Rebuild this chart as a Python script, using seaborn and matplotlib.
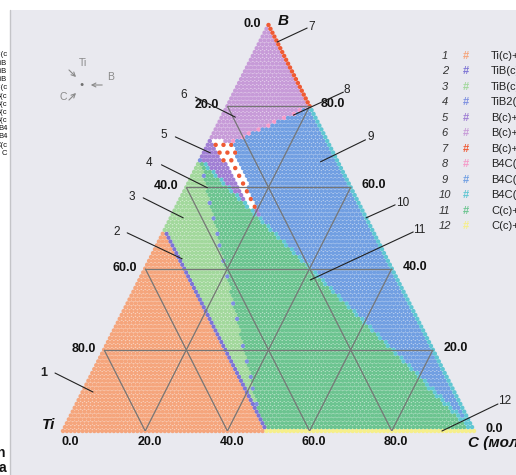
import numpy as np
import pandas as pd
import matplotlib
matplotlib.use("Agg")
import matplotlib.pyplot as plt
from matplotlib.path import Path
from matplotlib.patches import Rectangle, FancyArrowPatch
from matplotlib.lines import Line2D
from matplotlib.transforms import offset_copy
import seaborn as sns

sns.set_theme(style="white")
plt.rcParams["font.family"] = ["Liberation Sans", "DejaVu Sans"]

# Phase compositions as mole fractions of B and C (Ti = 1 - B - C)
phase_names = ["Ti", "TiB", "TiB2", "TiC", "B", "B4C", "C"]
phase_b = [0.0, 0.49, 0.667, 0.0, 1.0, 0.8, 0.0]
phase_c = [0.0, 0.0, 0.0, 0.487, 0.0, 0.2, 1.0]

# Corner points of the B-rich band next to TiB2
band_names = ["edge", "red_tl", "red_tr", "red_br", "red_bl", "tip"]
band_b = [0.717, 0.717, 0.712, 0.544, 0.552, 0.507]
band_c = [0.0, 0.005, 0.0535, 0.2005, 0.175, 0.240]

region_ids = list(range(1, 13))
region_labels = [
    "Ti(c)+TiB(c)+TiC(c)",
    "TiB(c)+TiC(c)",
    "TiB(c)+TiB2(c)+TiC(c)",
    "TiB2(c)+TiC(c)",
    "B(c)+TiB2(c)",
    "B(c)+B4C(c)+TiB2(c)",
    "B(c)+B4C(c)",
    "B4C(c)+TiB2(c)",
    "B4C(c)+C(c)+TiB2(c)",
    "B4C(c)+C(c)",
    "C(c)+TiB2(c)+TiC(c)",
    "C(c)+TiC(c)",
]
region_colors = [
    "#f5a57c", "#7d74d4", "#a2d89c", "#7d8fe0", "#a07fd4", "#c79bd8",
    "#ef5a34", "#f59ac8", "#719fe2", "#5fc6d2", "#6cc490", "#f6ef8a",
]

# Compositions that the numbered leader lines point at
label_b = [0.096, 0.424, 0.525, 0.599, 0.685, 0.773, 0.958, 0.778, 0.663, 0.525, 0.372, 0.0]
label_c = [0.025, 0.078, 0.030, 0.052, 0.016, 0.033, 0.042, 0.1715, 0.295, 0.475, 0.4155, 0.922]

tick_values = [0.0, 20.0, 40.0, 60.0, 80.0]

P = {n: (bb, cc) for n, bb, cc in zip(phase_names + band_names,
                                        phase_b + band_b, phase_c + band_c)}


def tri_xy(bb, cc):
    bb = np.asarray(bb, float)
    cc = np.asarray(cc, float)
    return cc + 0.5 * bb, bb


# ---------------- figure frame ----------------
W, H = 516, 475
fig = plt.figure(figsize=(W / 100, H / 100), dpi=100)
fig.patch.set_facecolor("white")
fig.patches.append(Rectangle((10 / W, 0), 1 - 10 / W, 1 - 10 / H,
                             transform=fig.transFigure, facecolor="#e9e9ef",
                             edgecolor="none", zorder=-10))
fig.add_artist(Line2D([9.5 / W, 9.5 / W], [0, 1 - 10 / H], color="#c4c4c8", lw=1))

ax = fig.add_axes([63 / W, (H - 431) / H, 411 / W, 406 / H])
ax.set_xlim(0, 1)
ax.set_ylim(0, 1)
ax.axis("off")

# ---------------- calculation lattice ----------------
n_div = 105
kk, ii = [], []
for k in range(n_div + 1):
    for i in range(n_div + 1 - k):
        kk.append(k)
        ii.append(i)
kk = np.array(kk)
ii = np.array(ii)
b = kk / n_div
c = ii / n_div

# slightly nudged copy for polygon membership tests
bn = b + (1 / 3 - b) * 1e-6
cn = c + (1 / 3 - c) * 1e-6


def inside(names):
    verts = np.column_stack(tri_xy([P[n][0] for n in names], [P[n][1] for n in names]))
    x, y = tri_xy(bn, cn)
    return Path(verts).contains_points(np.column_stack([x, y]))


def to_px(bb, cc):
    x, y = tri_xy(bb, cc)
    return 411 * x, 406 * y


def line_dist(pa, pb, bb=b, cc=c):
    x, y = to_px(bb, cc)
    x0, y0 = to_px(*pa)
    x1, y1 = to_px(*pb)
    dx, dy = x1 - x0, y1 - y0
    L = np.hypot(dx, dy)
    d = ((x - x0) * dy - (y - y0) * dx) / L
    t = ((x - x0) * dx + (y - y0) * dy) / L ** 2
    return d, t


region = np.zeros(len(b), int)
on_bottom = kk == 0
on_right = (n_div - kk - ii) == 0
region[on_bottom & (c >= P["TiC"][1] - 1e-9)] = 12
region[(region == 0) & on_right & (b >= P["B4C"][0] - 1e-9)] = 7
region[(region == 0) & on_right] = 10

region[(region == 0) & inside(["Ti", "TiB", "TiC"])] = 1

d, t = line_dist(P["TiB"], P["TiC"])
d_ref, _ = line_dist(P["TiB"], P["TiC"], 0.0, 0.0)
region[(region == 0) & (d * np.sign(d_ref) < 0) & (np.abs(d) < 3.4) & (t >= 0) & (t <= 1)] = 2

d, t = line_dist(P["TiB2"], P["TiC"])
region[(region == 0) & (np.abs(d) < 0.45) & (t >= 0) & (t <= 1)] = 4

d, t = line_dist(P["TiB2"], P["C"])
region[(region == 0) & (np.abs(d) < 1.4) & (t >= 0) & (t <= 1)] = 10

d, t = line_dist(P["B4C"], P["red_tr"])
region[(region == 0) & (np.abs(d) < 0.6) & (t >= 0) & (t <= 1)] = 8

# red-dotted field: scattered red dots on a white ground
red = (region == 0) & inside(["red_tl", "red_tr", "red_br", "red_bl"])
red_dot = (ii % 2 == 0) & (kk % 2 == 0)
region[red & red_dot] = 7
region[red & ~red_dot] = -1

for rid, names in [(3, ["TiB", "TiB2", "TiC"]),
                   (11, ["TiB2", "TiC", "C"]),
                   (9, ["B4C", "C", "tip", "red_br", "red_tr"]),
                   (6, ["B", "B4C", "red_tr", "red_tl", "edge"]),
                   (5, ["edge", "red_tl", "red_bl", "red_br", "tip", "TiB2"])]:
    region[(region == 0) & inside(names)] = rid

X, Y = tri_xy(b, c)
df = pd.DataFrame({"x": X, "y": Y, "region": region})
df = df[df["region"] > 0]

palette = dict(zip(region_ids, region_colors))

# white ground under the dotted phase fields
ax.fill([0, 1, 0.5], [0, 0, 1], color="white", zorder=0, lw=0)
sns.scatterplot(data=df, x="x", y="y", hue="region", palette=palette,
                hue_order=region_ids, s=10, linewidth=0, marker="o",
                legend=False, ax=ax, clip_on=False, zorder=2)
ax.set_xlim(0, 1)
ax.set_ylim(0, 1)
ax.set_xlabel("")
ax.set_ylabel("")

# ---------------- triangular grid ----------------
grid_kw = dict(color="#767676", lw=0.9, zorder=3, solid_capstyle="butt")
for v in [0.2, 0.4, 0.6, 0.8]:
    x, y = tri_xy([v, v], [0, 1 - v])
    ax.plot(x, y, **grid_kw)
    x, y = tri_xy([0, 1 - v], [v, v])
    ax.plot(x, y, **grid_kw)
    x, y = tri_xy([0, 1 - v], [1 - v, 0])
    ax.plot(x, y, **grid_kw)


def off(dx, dy):
    return offset_copy(ax.transData, fig=fig, x=dx, y=dy, units="dots")


tick_kw = dict(fontsize=9, fontweight="bold", color="#111111")
for v in tick_values:
    x, y = tri_xy(1 - v / 100, 0)
    ax.text(x, y, f"{v:.1f}", transform=off(-8, 1), ha="right", va="center", **tick_kw)
    x, y = tri_xy(v / 100, 1 - v / 100)
    ax.text(x, y, f"{v:.1f}", transform=off(11, 2), ha="left", va="center", **tick_kw)
    x, y = tri_xy(0, v / 100)
    ax.text(x, y, f"{v:.1f}", transform=off(16.5, -11), ha="right", va="center", **tick_kw)

axis_kw = dict(fontsize=11, fontweight="bold", fontstyle="italic", color="#111111")
x, y = tri_xy(0, 0)
ax.text(x, y, "Ti", transform=off(-8, 6), ha="right", va="center", **axis_kw)
x, y = tri_xy(1, 0)
ax.text(x, y, "B", transform=off(9, 4), ha="left", va="center", **axis_kw)
x, y = tri_xy(0, 1)
ax.text(x, y, "C (мол.%)", transform=off(-6, -12), ha="left", va="center", **axis_kw)

# ---------------- numbered leaders ----------------
label_off = [(-49, 19), (-66, 27), (-51, 21), (-58, 25), (-47, 18), (-52, 22),
             (35, 15), (53, 25), (50, 25), (37, 15), (109, 50), (63, 30)]
line_off = [(-38, 19), (-55, 26), (-40, 20), (-46, 23), (-35, 16), (-40, 20),
            (30, 14), (50, 23), (45, 22), (29, 13), (103, 48), (56, 27)]
for rid, lb, lc, (lx, ly), (sx, sy) in zip(region_ids, label_b, label_c, label_off, line_off):
    x, y = tri_xy(lb, lc)
    ax.plot([x + sx / 411, x], [y + sy / 406, y], color="#222222", lw=0.8, zorder=5,
            clip_on=False)
    ax.text(x, y, str(rid), transform=off(lx, ly), ha="center", va="center",
            fontsize=9 if rid == 1 else 8.5,
            fontweight="bold" if rid == 1 else "normal", color="#222222")

# ---------------- legend ----------------
for n, (rid, lab, col) in enumerate(zip(region_ids, region_labels, region_colors)):
    py = 56 + 15.45 * n
    fy = 1 - py / H
    fig.text(445 / W, fy, str(rid), ha="center", va="center", fontsize=8,
             fontstyle="italic", color="#333333")
    fig.text(466 / W, fy, "#", ha="center", va="center", fontsize=8,
             fontweight="bold", color=col)
    fig.text(491 / W, fy, lab, ha="left", va="center", fontsize=8, color="#222222")

# ---------------- orientation sketch ----------------
g = "#8a8a8a"
fig.text(82 / W, 1 - 85 / H, "●", ha="center", va="center", fontsize=5, color="#707070")
fig.text(83 / W, 1 - 63 / H, "Ti", ha="center", va="center", fontsize=7.5, color=g)
fig.text(111 / W, 1 - 77 / H, "B", ha="center", va="center", fontsize=7.5, color=g)
fig.text(63 / W, 1 - 97 / H, "C", ha="center", va="center", fontsize=7.5, color=g)
for (x0, y0), (x1, y1) in [((67, 68), (78, 79)), ((105, 85), (88, 85)), ((67, 102), (78, 91))]:
    fig.add_artist(FancyArrowPatch(
        (x0 / W, 1 - y0 / H), (x1 / W, 1 - y1 / H), transform=fig.transFigure,
        arrowstyle="->", mutation_scale=7, color=g, lw=0.8))

# ---------------- clipped neighbour panel text ----------------
side_txt = ["TiC(c", "TiB", "TiB", "TiB", "TiC(c", "B(c", "B(c", "B(c", "B(c",
            "B4", "B4", "C(c", "C"]
for n, s_ in enumerate(side_txt):
    fig.text(7.5 / W, 1 - (55 + 8.2 * n) / H, s_, ha="right", va="center",
             fontsize=5.5, color="#111111")
fig.text(6 / W, 1 - 453 / H, "n", ha="right", va="center", fontsize=10,
         fontweight="bold", color="#111111")
fig.text(6 / W, 1 - 468 / H, "a", ha="right", va="center", fontsize=10,
         fontweight="bold", color="#111111")

fig.savefig("out.png", dpi=100)
